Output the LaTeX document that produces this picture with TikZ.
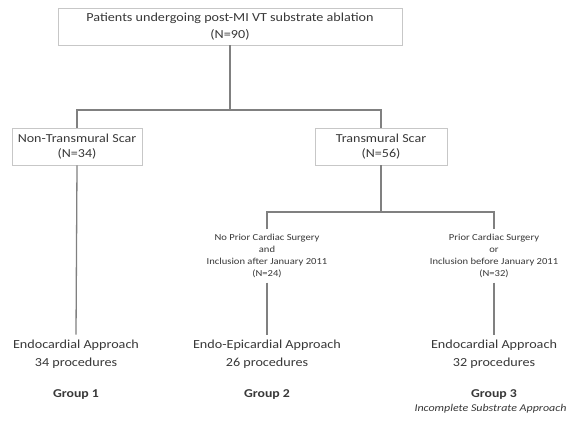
\documentclass[tikz,border=0pt]{standalone}
\usepackage{fontspec}
\setmainfont{Carlito}[FakeStretch=1.15]
\begin{document}
\begin{tikzpicture}[x=1pt,y=-1pt,
  box/.style={draw=black!22,line width=0.9pt,fill=white,inner sep=0pt,text=black!78,align=center},
  txt/.style={inner sep=0pt,outer ysep=5pt,text=black!78,align=center},
  conn/.style={draw=black!50,line width=1.3pt}]
\useasboundingbox[fill=white] (0,0) rectangle (569,420);
\node[box,minimum width=344pt,minimum height=37pt,font=\fontsize{12.3}{17}\selectfont] (top) at (230,26.5) {Patients undergoing post-MI VT substrate ablation\\(N=90)};
\node[box,minimum width=130pt,minimum height=37pt,font=\fontsize{12.2}{15}\selectfont] (nt) at (77,146.5) {Non-Transmural Scar\\(N=34)};
\node[box,minimum width=132pt,minimum height=37pt,font=\fontsize{12.2}{15}\selectfont] (tr) at (381,146.5) {Transmural Scar\\(N=56)};
\node[txt,font=\fontsize{9.2}{11.8}\selectfont] (c2) at (267,256) {No Prior Cardiac Surgery\\and\\Inclusion after January 2011\\(N=24)};
\node[txt,font=\fontsize{9.2}{11.8}\selectfont] (c3) at (494,256) {Prior Cardiac Surgery\\or\\Inclusion before January 2011\\(N=32)};
\node[txt,font=\fontsize{12.3}{18}\selectfont] (e1) at (76,354) {Endocardial Approach\\34 procedures};
\node[txt,font=\fontsize{12.3}{18}\selectfont] (e2) at (267,354) {Endo-Epicardial Approach\\26 procedures};
\node[txt,font=\fontsize{12.3}{18}\selectfont] (e3) at (494,354) {Endocardial Approach\\32 procedures};
\node[txt,font=\bfseries\fontsize{12}{14}\selectfont] (g1) at (76,395) {Group 1};
\node[txt,font=\bfseries\fontsize{12}{14}\selectfont] (g2) at (267,395) {Group 2};
\node[txt,font=\bfseries\fontsize{12}{14}\selectfont] (g3) at (494,395) {Group 3};
\node[txt,font=\itshape\fontsize{10.4}{12}\selectfont] (g3b) at (490.5,409) {Incomplete Substrate Approach};
\coordinate (s1) at (230,110);
\coordinate (s2) at (381,212);
\draw[conn] (top.south) -- (s1);
\draw[conn] (nt.north) |- (s1) -| (tr.north);
\draw[conn] (tr.south) -- (s2);
\draw[conn] (c2.north) |- (s2) -| (c3.north);
\draw[conn] (nt.south) -- (e1.north);
\draw[conn] (c2.south) -- (e2.north);
\draw[conn] (c3.south) -- (e3.north);
\end{tikzpicture}
\end{document}
